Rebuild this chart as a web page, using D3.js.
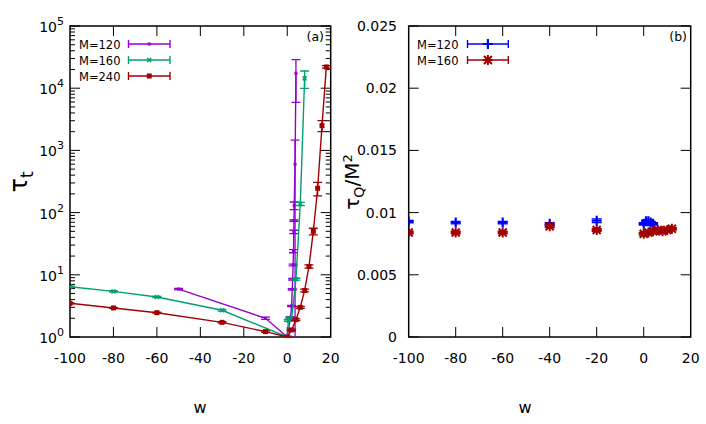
<!DOCTYPE html>
<html>
<head>
<meta charset="utf-8">
<script src="https://cdn.jsdelivr.net/npm/d3@7"></script>
<style>
  body { margin: 0; background: #fff; }
  text { font-family: "DejaVu Sans", Verdana, sans-serif; fill: #000; }
</style>
</head>
<body>
<div id="chart"></div>
<script>
// ---- data, left panel (tau_t vs w, log scale) ----
const m120W   = [-50, -10, 0, 1.5, 2.0, 2.3, 2.5, 2.7, 2.9, 3.0, 3.1, 3.2, 3.6, 4.0];
const m120Tau = [5.9, 2.0, 1.0, 2.07, 3.15, 5.85, 8.5, 14.4, 24, 49, 74, 130, 600, 17400];
const m120Err = [0.15, 0.08, 0.02, 0.05, 0.08, 0.15, 0.25, 0.5, 1.4, 3, 2, 18, 860, 11500];

const m160W   = [-100, -80, -60, -30, 0, 0.5, 1, 2, 4, 6, 8];
const m160Tau = [6.44, 5.42, 4.4, 2.69, 1.0, 1.85, 2.0, 1.95, 8.5, 138, 14400];
const m160Err = [0.15, 0.12, 0.1, 0.08, 0.02, 0.06, 0.08, 0.08, 0.3, 8, 4500];

const m240W   = [-100, -80, -60, -30, -10, 0, 2, 4, 6, 8, 10, 12, 14, 16, 18];
const m240Tau = [3.48, 2.93, 2.46, 1.72, 1.22, 1.0, 1.3, 1.9, 3.0, 5.6, 13.6, 50, 246, 2500, 22000];
const m240Err = [0.05, 0.05, 0.04, 0.04, 0.03, 0.02, 0.04, 0.06, 0.1, 0.3, 0.8, 6, 60, 500, 1000];

// ---- data, right panel (tau_Q / M^2 vs w) ----
const q120W   = [-100, -80, -60, -40, -20, 0, 1, 2, 3, 4];
const q120Val = [0.00927, 0.0092, 0.0092, 0.0091, 0.00935, 0.0091, 0.0093, 0.0093, 0.0092, 0.0091];
const q120Err = [0.0001, 0.0001, 0.0001, 0.0001, 0.00015, 0.0001, 0.0001, 0.0001, 0.0001, 0.0001];

const q160W   = [-100, -80, -60, -40, -20, 0, 2, 4, 6, 8, 10, 12];
const q160Val = [0.0084, 0.0084, 0.0084, 0.0089, 0.0086, 0.0083, 0.0084, 0.0085, 0.0086, 0.0085, 0.0086, 0.0087];
const q160Err = [0.0001, 0.0001, 0.0001, 0.0001, 0.0001, 0.0001, 0.0001, 0.0001, 0.0001, 0.0001, 0.0001, 0.0001];

// ---- ticks ----
const xTicks = [-100, -80, -60, -40, -20, 0, 20];
const leftYTicks = [1, 10, 100, 1000, 10000, 100000];
const rightYTicks = [0, 0.005, 0.01, 0.015, 0.02, 0.025];

const zip = (w, v, e) => w.map((d, i) => ({ w: d, v: v[i], e: e[i] }));

const svg = d3.select("#chart").append("svg")
  .attr("width", 706).attr("height", 424);

// Panel geometry
const L = { x0: 70, x1: 330.7, y0: 26, y1: 337 };
const R = { x0: 408.7, x1: 690.7, y0: 26, y1: 337 };

const xL = d3.scaleLinear().domain([-100, 20]).range([L.x0, L.x1]);
const yL = d3.scaleLog().domain([1, 1e5]).range([L.y1, L.y0]);
const xR = d3.scaleLinear().domain([-100, 20]).range([R.x0, R.x1]);
const yR = d3.scaleLinear().domain([0, 0.025]).range([R.y1, R.y0]);

// clip paths
[["clipL", L], ["clipR", R]].forEach(([id, p]) => {
  svg.append("clipPath").attr("id", id).append("rect")
    .attr("x", p.x0).attr("y", p.y0).attr("width", p.x1 - p.x0).attr("height", p.y1 - p.y0);
});

// ---------- axes helpers ----------
function drawTicks(p, x, y, yMajor, yMinor) {
  const g = svg.append("g").attr("stroke", "#000").attr("stroke-width", 1);
  xTicks.slice(1, -1).forEach(t => {
    g.append("line").attr("x1", x(t)).attr("x2", x(t)).attr("y1", p.y1).attr("y2", p.y1 - 10);
    g.append("line").attr("x1", x(t)).attr("x2", x(t)).attr("y1", p.y0).attr("y2", p.y0 + 10);
  });
  yMajor.forEach(t => {
    g.append("line").attr("x1", p.x0).attr("x2", p.x0 + 10).attr("y1", y(t)).attr("y2", y(t));
    g.append("line").attr("x1", p.x1).attr("x2", p.x1 - 10).attr("y1", y(t)).attr("y2", y(t));
  });
  yMinor.forEach(t => {
    g.append("line").attr("x1", p.x0).attr("x2", p.x0 + 5).attr("y1", y(t)).attr("y2", y(t));
    g.append("line").attr("x1", p.x1).attr("x2", p.x1 - 5).attr("y1", y(t)).attr("y2", y(t));
  });
  svg.append("rect")
    .attr("x", p.x0).attr("y", p.y0).attr("width", p.x1 - p.x0).attr("height", p.y1 - p.y0)
    .attr("fill", "none").attr("stroke", "#000").attr("stroke-width", 1.5);

  // x tick labels
  svg.append("g").selectAll("text").data(xTicks).enter().append("text")
    .attr("x", d => x(d)).attr("y", p.y1 + 26)
    .attr("text-anchor", "middle").style("font-size", "14px")
    .text(d => d);
}

// minor ticks for log axis
const minorLog = [];
for (let dec = 1; dec < 1e5; dec *= 10) for (let k = 2; k <= 9; k++) minorLog.push(dec * k);

drawTicks(L, xL, yL, leftYTicks, minorLog);
drawTicks(R, xR, yR, rightYTicks, []);

// left y tick labels: 10^n
const yLab = svg.append("g").selectAll("text").data(leftYTicks).enter().append("text")
  .attr("x", 64).attr("y", d => yL(d) + 6)
  .attr("text-anchor", "end").style("font-size", "14px");
yLab.append("tspan").text("10");
yLab.append("tspan").attr("dy", -7).style("font-size", "11px").text(d => Math.round(Math.log10(d)));

// right y tick labels
svg.append("g").selectAll("text").data(rightYTicks).enter().append("text")
  .attr("x", 397).attr("y", d => yR(d) + 5)
  .attr("text-anchor", "end").style("font-size", "14px")
  .text(d => d === 0 ? "0" : d3.format("~g")(d));

// axis titles
svg.append("text").attr("x", 200).attr("y", 413).attr("text-anchor", "middle")
  .style("font-size", "16px").text("w");
svg.append("text").attr("x", 525).attr("y", 413).attr("text-anchor", "middle")
  .style("font-size", "16px").text("w");

const tl = svg.append("text").attr("text-anchor", "middle")
  .attr("transform", "translate(27,182) rotate(-90)").style("font-size", "24px");
tl.append("tspan").text("τ");
tl.append("tspan").attr("dy", 6).style("font-size", "17px").text("t");

const tr = svg.append("text").attr("text-anchor", "middle")
  .attr("transform", "translate(359,182) rotate(-90)").style("font-size", "20px");
tr.append("tspan").text("τ");
tr.append("tspan").attr("dy", 5).style("font-size", "14px").text("Q");
tr.append("tspan").attr("dy", -5).text("/M");
tr.append("tspan").attr("dy", -7).style("font-size", "13px").text("2");

// panel tags
svg.append("text").attr("x", 324).attr("y", 41).attr("text-anchor", "end")
  .style("font-size", "12.5px").text("(a)");
svg.append("text").attr("x", 687).attr("y", 41).attr("text-anchor", "end")
  .style("font-size", "12.5px").text("(b)");

// ---------- marks ----------
function errorBars(g, data, x, y, color, cap, yMin) {
  data.forEach(d => {
    const lo = d.v - d.e, hi = d.v + d.e;
    const yLo = lo > yMin ? y(lo) : y(yMin) + 5;
    g.append("line").attr("x1", x(d.w)).attr("x2", x(d.w))
      .attr("y1", yLo).attr("y2", y(hi))
      .attr("stroke", color).attr("stroke-width", 1.3);
    [hi, lo].forEach(v => {
      if (v > yMin) g.append("line")
        .attr("x1", x(d.w) - cap).attr("x2", x(d.w) + cap)
        .attr("y1", y(v)).attr("y2", y(v))
        .attr("stroke", color).attr("stroke-width", 1.3);
    });
  });
}

function marker(g, type, cx, cy, color, s) {
  if (type === "dot") {
    g.append("rect").attr("x", cx - 1.5).attr("y", cy - 1.5).attr("width", 3).attr("height", 3).attr("fill", color);
  } else if (type === "xs") {
    g.append("path").attr("d", `M${cx - 2},${cy - 2}L${cx + 2},${cy + 2}M${cx - 2},${cy + 2}L${cx + 2},${cy - 2}`)
      .attr("stroke", color).attr("stroke-width", 1.5);
  } else if (type === "sq") {
    g.append("rect").attr("x", cx - 2.5).attr("y", cy - 2.5).attr("width", 5).attr("height", 5).attr("fill", color);
  } else if (type === "plus") {
    g.append("path").attr("d", `M${cx - s},${cy}L${cx + s},${cy}M${cx},${cy - s}L${cx},${cy + s}`)
      .attr("stroke", color).attr("stroke-width", 2.2);
  } else if (type === "star") {
    const a = s * 0.8;
    g.append("path").attr("d",
      `M${cx - s},${cy}L${cx + s},${cy}M${cx},${cy - s}L${cx},${cy + s}` +
      `M${cx - a},${cy - a}L${cx + a},${cy + a}M${cx - a},${cy + a}L${cx + a},${cy - a}`)
      .attr("stroke", color).attr("stroke-width", 2);
  }
}

const seriesL = [
  { data: zip(m120W, m120Tau, m120Err), color: "#9400d3", mk: "dot", label: "M=120" },
  { data: zip(m160W, m160Tau, m160Err), color: "#009e73", mk: "xs", label: "M=160" },
  { data: zip(m240W, m240Tau, m240Err), color: "#a00000", mk: "sq", label: "M=240" }
];

const gL = svg.append("g").attr("clip-path", "url(#clipL)");
const line = d3.line().x(d => xL(d.w)).y(d => yL(d.v));
seriesL.forEach(s => {
  gL.append("path").datum(s.data).attr("d", line)
    .attr("fill", "none").attr("stroke", s.color).attr("stroke-width", 1.4);
  errorBars(gL, s.data, xL, yL, s.color, 4.5, 1);
  s.data.forEach(d => marker(gL, s.mk, xL(d.w), yL(d.v), s.color));
});

const seriesR = [
  { data: zip(q120W, q120Val, q120Err), color: "#0000ff", mk: "plus", label: "M=120" },
  { data: zip(q160W, q160Val, q160Err), color: "#a00000", mk: "star", label: "M=160" }
];
const gR = svg.append("g").attr("clip-path", "url(#clipR)");
seriesR.forEach(s => {
  errorBars(gR, s.data, xR, yR, s.color, 5, 0);
  s.data.forEach(d => marker(gR, s.mk, xR(d.w), yR(d.v), s.color, 5));
});

// ---------- legends ----------
function legend(series, tx, lx0, lx1, y0, dy, cap, big) {
  series.forEach((s, i) => {
    const y = y0 + i * dy;
    svg.append("text").attr("x", tx).attr("y", y + 4.5).style("font-size", "11.5px").text(s.label);
    const g = svg.append("g");
    g.append("line").attr("x1", lx0).attr("x2", lx1).attr("y1", y).attr("y2", y)
      .attr("stroke", s.color).attr("stroke-width", 1.4);
    [lx0, lx1].forEach(x => g.append("line").attr("x1", x).attr("x2", x)
      .attr("y1", y - cap).attr("y2", y + cap).attr("stroke", s.color).attr("stroke-width", 1.4));
    marker(g, s.mk, (lx0 + lx1) / 2, y, s.color, big);
  });
}
legend(seriesL, 79, 128.5, 170, 44, 16, 4);
legend(seriesR, 417, 467.5, 508.3, 44, 16, 4, 5);
</script>
</body>
</html>
